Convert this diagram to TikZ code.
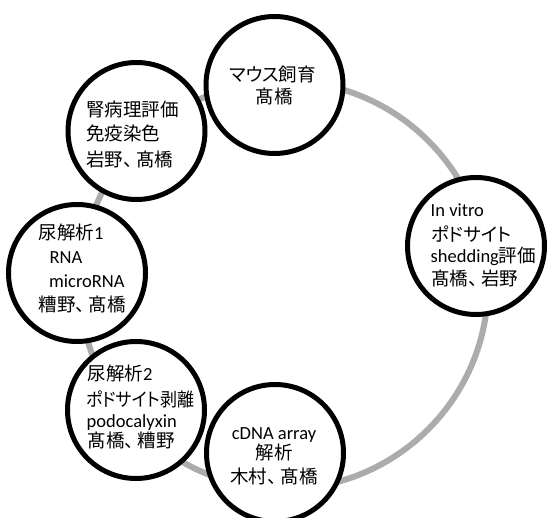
\documentclass[tikz,border=0pt]{standalone}
\usepackage{fontspec}
\setmainfont{Carlito}
\newfontfamily\jp[RawFeature=+palt]{Noto Sans CJK JP}
\definecolor{ringgray}{RGB}{172,172,172}
\newcommand{\tten}{、\kern4pt}
\begin{document}
\begin{tikzpicture}[x=1pt,y=-1pt,
  bub/.style={circle,draw=black,line width=5pt,fill=white,minimum size=137pt,inner sep=0pt},
  ring/.style={draw=ringgray,line width=6pt},
  tl/.style={inner sep=0pt,anchor=base west,font=\fontsize{18.5}{22}\selectfont},
  tc/.style={inner sep=0pt,anchor=base,font=\fontsize{18.5}{22}\selectfont}]
\useasboundingbox (0,0) rectangle (549,518);
\fill[white] (0,0) rectangle (549,518);
% ring
\draw[ring] (284,285) circle[radius=204pt];
% bubbles
\node[bub] (mouse) at (274.5,85) {};
\node[bub] (kidney) at (136.5,131) {};
\node[bub] (urineA) at (77,273) {};
\node[bub] (urineB) at (136,410) {};
\node[bub] (cdna) at (275,453) {};
\node[bub] (invitro) at (476,246) {};
% mouse
\node[tc] (mouseA) at (272.5,81.5) {\jp マウス飼育};
\node[tc] (mouseB) at (274,104) {\jp 髙橋};
% kidney
\node[tl] (kidneyA) at (86,117) {\jp 腎病理評価};
\node[tl] (kidneyB) at (86,141) {\jp 免疫染色};
\node[tl] (kidneyC) at (86,167) {\jp 岩野\tten 髙橋};
% urine 1
\node[tl] (urineAa) at (38.5,239.5) {{\jp 尿解析}1};
\node[tl] (urineAb) at (49.5,264) {RNA};
\node[tl] (urineAc) at (49,288) {microRNA};
\node[tl] (urineAd) at (38.5,311.5) {\jp 糟野\tten 髙橋};
% in vitro
\node[tl] (invitroA) at (430.5,216.5) {In vitro};
\node[tl] (invitroB) at (431,242) {\jp ポドサイト};
\node[tl] (invitroC) at (430.5,263) {shedding{\jp 評価}};
\node[tl] (invitroD) at (431,285.5) {\jp 髙橋\tten 岩野};
% urine 2
\node[tl] (urineBa) at (87.5,380.5) {{\jp 尿解析}2};
\node[tl] (urineBb) at (86,407) {\scalebox{0.92}[1]{\jp ポドサイト剥離}};
\node[tl] (urineBc) at (86.5,428) {podocalyxin};
\node[tl] (urineBd) at (87.5,448) {\jp 髙橋\tten 糟野};
% cDNA
\node[tc] (cdnaA) at (274,439) {cDNA array};
\node[tc] (cdnaB) at (274,459.5) {\jp 解析};
\node[tc] (cdnaC) at (274,483) {\jp 木村\tten 髙橋};
\end{tikzpicture}
\end{document}
